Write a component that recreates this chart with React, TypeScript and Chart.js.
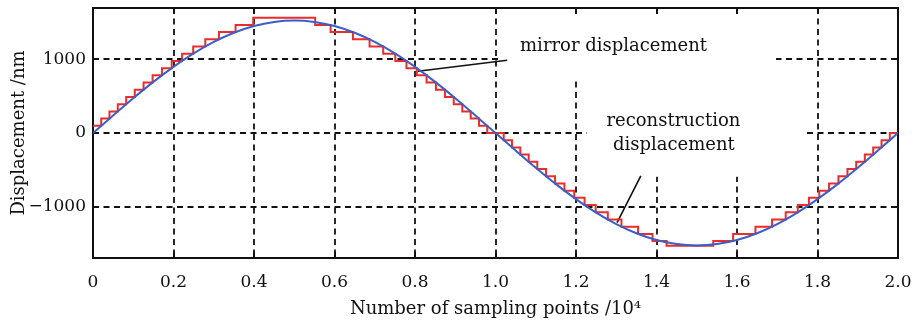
import { useEffect, useRef } from "react";
import { Chart, registerables } from "chart.js";

Chart.register(...registerables);

// ---- data (x in units of 10^4 sampling points, y in nm) ----
const xTickValues = [0, 0.2, 0.4, 0.6, 0.8, 1.0, 1.2, 1.4, 1.6, 1.8, 2.0];
const yTickValues = [-1000, 0, 1000];

const mirrorX = [0, 0.05, 0.1, 0.15, 0.2, 0.25, 0.3, 0.35, 0.4, 0.45, 0.5, 0.55, 0.6, 0.65, 0.7, 0.75, 0.8, 0.85, 0.9, 0.95, 1, 1.05, 1.1, 1.15, 1.2, 1.25, 1.3, 1.35, 1.4, 1.45, 1.5, 1.55, 1.6, 1.65, 1.7, 1.75, 1.8, 1.85, 1.9, 1.95, 2];
const mirrorY = [0, 239, 473, 695, 899, 1082, 1238, 1363, 1455, 1511, 1530, 1511, 1455, 1363, 1238, 1082, 899, 695, 473, 239, 0, -239, -473, -695, -899, -1082, -1238, -1363, -1455, -1511, -1530, -1511, -1455, -1363, -1238, -1082, -899, -695, -473, -239, 0];

const reconX = [
  0, 0.0204, 0.0409, 0.0616, 0.0825, 0.1038, 0.1256, 0.148, 0.1713, 0.1956, 0.2213, 0.2489, 0.279, 0.3129, 0.3542, 0.398,
  0.552, 0.5903, 0.6458, 0.6871, 0.721, 0.7511, 0.7787, 0.8044, 0.8287, 0.852, 0.8744, 0.8962, 0.9175, 0.9384, 0.9591, 0.9796,
  1.0204, 1.0409, 1.0616, 1.0825, 1.1038, 1.1256, 1.148, 1.1713, 1.1956, 1.2213, 1.2489, 1.279, 1.3129, 1.3542, 1.39, 1.425,
  1.541, 1.5903, 1.6458, 1.6871, 1.721, 1.7511, 1.7787, 1.8044, 1.8287, 1.852, 1.8744, 1.8962, 1.9175, 1.9384, 1.9591, 1.9796, 2.0,
];
const reconY = [
  98, 196, 294, 392, 490, 588, 686, 784, 882, 980, 1078, 1176, 1274, 1372, 1470, 1568,
  1470, 1372, 1274, 1176, 1078, 980, 882, 784, 686, 588, 490, 392, 294, 196, 98, 0,
  -98, -196, -294, -392, -490, -588, -686, -784, -882, -980, -1078, -1176, -1274, -1372, -1470, -1535,
  -1470, -1372, -1274, -1176, -1078, -980, -882, -784, -686, -588, -490, -392, -294, -196, -98, 0, 0,
];

const FONT = '"DejaVu Serif", serif';

const decorPlugin = {
  id: "decor",
  beforeDatasetsDraw(chart: any) {
    const { ctx, chartArea: a, scales } = chart;
    const sx = scales.x;
    const sy = scales.y;
    const X = (v: number) => sx.getPixelForValue(v);
    const Y = (v: number) => sy.getPixelForValue(v);
    ctx.save();
    // dashed grid
    ctx.strokeStyle = "#111";
    ctx.lineWidth = 1.8;
    ctx.setLineDash([6, 4.5]);
    ctx.beginPath();
    xTickValues.forEach((v) => {
      if (v <= 0 || v >= 2) return;
      const px = Math.round(X(v));
      ctx.moveTo(px, a.top);
      ctx.lineTo(px, a.bottom);
    });
    yTickValues.forEach((v) => {
      const py = Math.round(Y(v));
      ctx.moveTo(a.left, py);
      ctx.lineTo(a.right, py);
    });
    ctx.stroke();
    ctx.setLineDash([]);
    // white label boxes
    ctx.fillStyle = "#fff";
    const boxes = [
      [1.011, 1.697, 1700, 745],
      [1.227, 1.764, 745, -596],
    ];
    boxes.forEach(([x0, x1, y0, y1]) => {
      const l = X(x0), r = X(x1), t = Math.max(Y(y0), a.top + 1), b = Y(y1);
      ctx.fillRect(l, t, r - l, b - t);
    });
    // inner ticks on all sides
    ctx.strokeStyle = "#111";
    ctx.lineWidth = 2;
    const tl = 6;
    ctx.beginPath();
    xTickValues.forEach((v) => {
      const px = Math.round(X(v));
      ctx.moveTo(px, a.top);
      ctx.lineTo(px, a.top + tl);
      ctx.moveTo(px, a.bottom);
      ctx.lineTo(px, a.bottom - tl);
    });
    yTickValues.forEach((v) => {
      const py = Math.round(Y(v));
      ctx.moveTo(a.left, py);
      ctx.lineTo(a.left + tl, py);
      ctx.moveTo(a.right, py);
      ctx.lineTo(a.right - tl, py);
    });
    ctx.stroke();
    // frame
    ctx.strokeRect(a.left, a.top, a.right - a.left, a.bottom - a.top);
    // annotation texts
    ctx.fillStyle = "#111";
    ctx.font = "18px " + FONT;
    ctx.textBaseline = "alphabetic";
    ctx.textAlign = "left";
    ctx.fillText("mirror displacement", X(1.061), Y(1111));
    ctx.textAlign = "center";
    ctx.fillText("reconstruction", X(1.442), Y(95));
    ctx.fillText("displacement", X(1.443), Y(-230));
    // pointer lines
    ctx.lineWidth = 1.6;
    ctx.beginPath();
    ctx.moveTo(X(0.807), Y(840));
    ctx.lineTo(X(1.029), Y(989));
    ctx.moveTo(X(1.302), Y(-1220));
    ctx.lineTo(X(1.361), Y(-583));
    ctx.stroke();
    ctx.restore();
  },
};

const zeroPad = (s: any) => {
  s.paddingLeft = 0;
  s.paddingRight = 0;
  s.paddingTop = 0;
  s.paddingBottom = 0;
};

export default function App() {
  const ref = useRef<HTMLCanvasElement>(null);
  useEffect(() => {
    if (!ref.current) return;
    const chart = new Chart(ref.current, {
      type: "line",
      data: {
        datasets: [
          {
            label: "mirror displacement",
            data: mirrorX.map((x, i) => ({ x, y: mirrorY[i] })),
            borderColor: "#3a5fc6",
            borderWidth: 2,
            pointRadius: 0,
            cubicInterpolationMode: "monotone",
            fill: false,
          },
          {
            label: "reconstruction displacement",
            data: reconX.map((x, i) => ({ x, y: reconY[i] })),
            borderColor: "#ee2b2b",
            borderWidth: 2,
            pointRadius: 0,
            stepped: "before",
            fill: false,
          },
        ],
      },
      options: {
        responsive: false,
        animation: false,
        events: [],
        layout: { padding: { left: 0, top: 8, right: 19, bottom: 0 } },
        plugins: { legend: { display: false }, tooltip: { enabled: false } },
        scales: {
          x: {
            type: "linear",
            min: 0,
            max: 2,
            grid: { display: false, drawTicks: false },
            border: { display: false },
            afterBuildTicks: (s: any) => {
              s.ticks = xTickValues.map((v) => ({ value: v }));
            },
            afterFit: (s: any) => {
              s.height = 64;
              zeroPad(s);
            },
            ticks: {
              padding: 14,
              color: "#111",
              font: { family: FONT, size: 17 },
              callback: (v: any) => (Number(v) === 0 ? "0" : Number(v).toFixed(1)),
            },
            title: {
              display: true,
              text: "Number of sampling points /10⁴",
              color: "#111",
              font: { family: FONT, size: 18 },
              padding: { top: 0, bottom: 2 },
            },
          },
          y: {
            type: "linear",
            min: -1700,
            max: 1700,
            grid: { display: false, drawTicks: false },
            border: { display: false },
            afterBuildTicks: (s: any) => {
              s.ticks = yTickValues.map((v) => ({ value: v }));
            },
            afterFit: (s: any) => {
              s.width = 93;
              zeroPad(s);
            },
            ticks: {
              padding: 7,
              color: "#111",
              font: { family: FONT, size: 17 },
              callback: (v: any) => (Number(v) < 0 ? "\u2212" + Math.abs(Number(v)) : String(v)),
            },
            title: {
              display: true,
              text: "Displacement /nm",
              color: "#111",
              font: { family: FONT, size: 18 },
              padding: { top: 9, bottom: 0 },
            },
          },
        },
      },
      plugins: [decorPlugin],
    });
    return () => chart.destroy();
  }, []);
  return (
    <div style={{ position: "absolute", left: 0, top: 0, width: 917, height: 322 }}>
      <canvas ref={ref} width={917} height={322} style={{ display: "block" }} />
    </div>
  );
}
